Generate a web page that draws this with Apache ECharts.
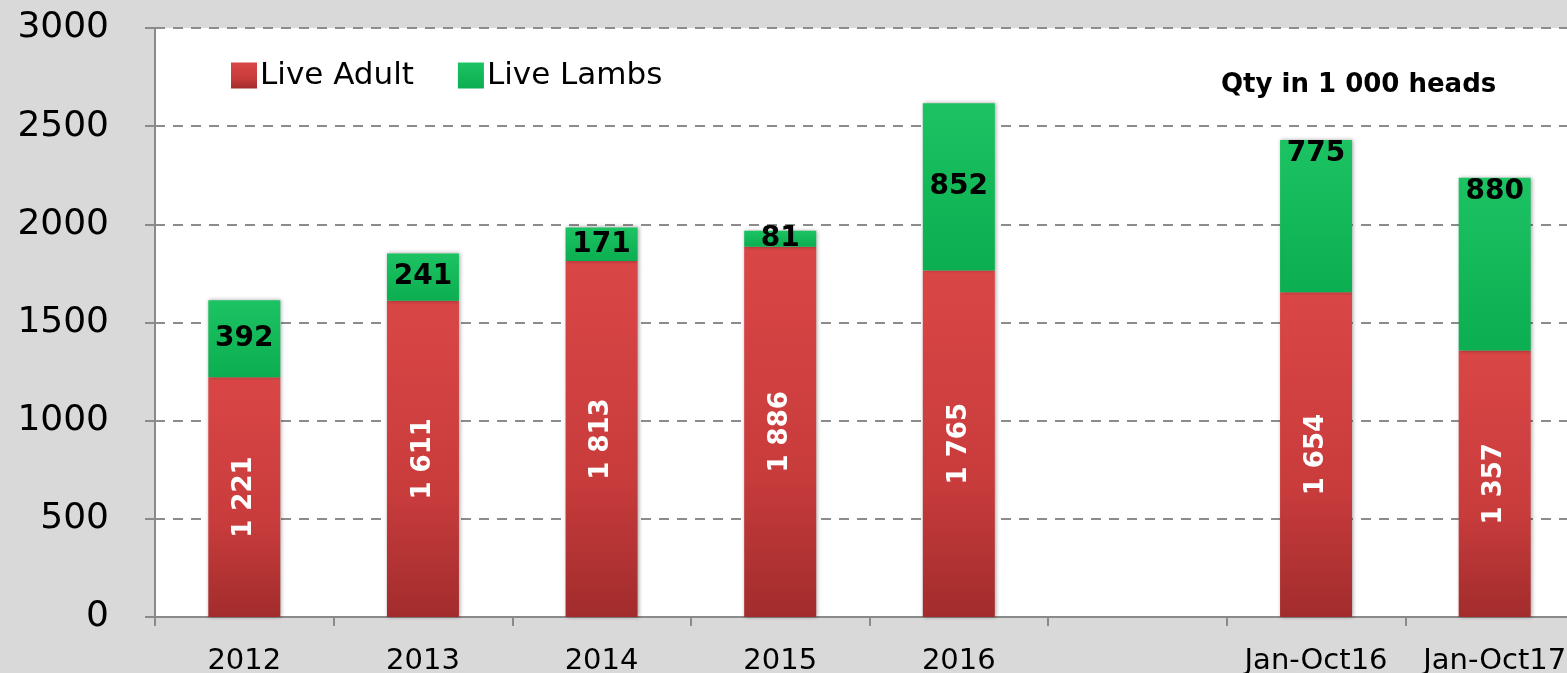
<!DOCTYPE html>
<html>
<head>
<meta charset="utf-8">
<script src="https://cdn.jsdelivr.net/npm/echarts@6/dist/echarts.min.js"></script>
<style>
html,body{margin:0;padding:0;background:#d9d9d9;overflow:hidden;}
#chart{width:1584px;height:673px;}
</style>
</head>
<body>
<div id="chart"></div>
<script>
const categories = ['2012', '2013', '2014', '2015', '2016', '', 'Jan-Oct16', 'Jan-Oct17'];
const liveAdult = [1221, 1611, 1813, 1886, 1765, null, 1654, 1357];
const liveLambs = [392, 241, 171, 81, 852, null, 775, 880];
const lambLabelPos = ['inside', 'inside', 'inside', 'inside', 'inside', 'inside', 'insideTop', 'insideTop'];
const yTicks = [0, 500, 1000, 1500, 2000, 2500, 3000];

function fmt(v) {
  return String(v).replace(/\B(?=(\d{3})+(?!\d))/g, ' ');
}

const font = 'DejaVu Sans';
const chart = echarts.init(document.getElementById('chart'), null, {renderer: 'canvas'});

const redGrad = new echarts.graphic.LinearGradient(0, 0, 0, 1, [
  {offset: 0, color: '#da4646'},
  {offset: 0.6, color: '#c93c3c'},
  {offset: 1, color: '#a22c2c'}
]);
const greenGrad = new echarts.graphic.LinearGradient(0, 0, 0, 1, [
  {offset: 0, color: '#1cc363'},
  {offset: 1, color: '#0bae50'}
]);

chart.setOption({
  color: ['#c93c3c', '#10b857'],
  backgroundColor: '#d9d9d9',
  animation: false,
  title: {
    text: 'Qty in 1 000 heads',
    left: 1216,
    top: 67,
    textStyle: {fontFamily: font, fontSize: 26, fontWeight: 'bold', color: '#000'}
  },
  legend: {
    left: 226,
    top: 55,
    itemWidth: 26,
    itemHeight: 26,
    itemGap: 44,
    icon: 'rect',
    textStyle: {fontFamily: font, fontSize: 31, color: '#000', padding: [0, 0, 0, -2]},
    data: ['Live Adult', 'Live Lambs']
  },
  grid: {
    left: 155, top: 28, bottom: 56, right: 0,
    outerBoundsMode: 'none',
    show: true, backgroundColor: '#ffffff', borderWidth: 0
  },
  xAxis: {
    type: 'category',
    data: categories,
    axisLine: {lineStyle: {color: '#8a8a8a', width: 2}},
    axisTick: {show: true, alignWithLabel: false, length: 9, lineStyle: {color: '#8a8a8a', width: 2}},
    axisLabel: {fontFamily: font, fontSize: 29, color: '#000', margin: 30, interval: 0}
  },
  yAxis: {
    type: 'value',
    min: yTicks[0],
    max: yTicks[yTicks.length - 1],
    interval: 500,
    axisLine: {show: true, lineStyle: {color: '#8a8a8a', width: 2}},
    axisTick: {show: true, length: 10, lineStyle: {color: '#8a8a8a', width: 2}},
    axisLabel: {fontFamily: font, fontSize: 36, color: '#000', margin: 46, formatter: v => String(v)},
    splitLine: {lineStyle: {color: '#8c8c8c', width: 2, type: [10, 8]}}
  },
  series: [
    {
      name: 'Live Adult',
      type: 'bar',
      stack: 'total',
      barWidth: 72,
      data: liveAdult.map(v => v == null ? '-' : v),
      itemStyle: {color: redGrad, shadowBlur: 4, shadowColor: 'rgba(0,0,0,0.35)', shadowOffsetX: 1},
      label: {
        show: true, position: 'inside', rotate: 90,
        fontFamily: font, fontSize: 26, fontWeight: 'bold', color: '#ffffff',
        formatter: p => fmt(p.value)
      }
    },
    {
      name: 'Live Lambs',
      type: 'bar',
      stack: 'total',
      barWidth: 72,
      data: liveLambs.map((v, i) => v == null ? '-' : {value: v, label: {position: lambLabelPos[i]}}),
      itemStyle: {color: greenGrad, shadowBlur: 4, shadowColor: 'rgba(0,0,0,0.35)', shadowOffsetX: 1},
      label: {
        show: true, position: 'inside', distance: 0,
        fontFamily: font, fontSize: 28, fontWeight: 'bold', color: '#000000',
        formatter: p => fmt(p.value)
      }
    }
  ]
});
</script>
</body>
</html>
